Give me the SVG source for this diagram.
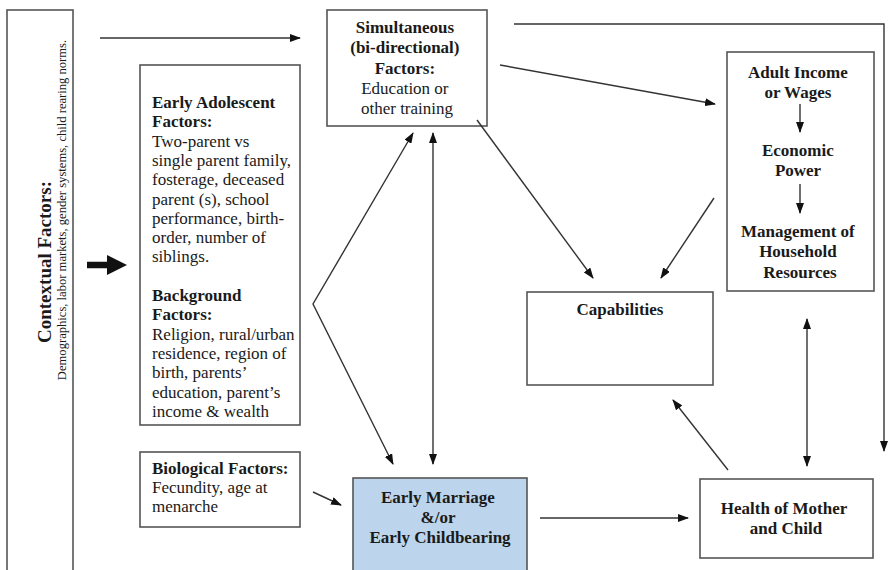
<svg xmlns="http://www.w3.org/2000/svg" width="889" height="570" viewBox="0 0 889 570">
  <defs>
    <style>
      .box { fill: #ffffff; stroke: #555555; stroke-width: 1.6; }
      .blue { fill: #bdd5ec; stroke: #555555; stroke-width: 1.6; }
      .t { font-family: "Liberation Serif", "Times New Roman", serif; font-size: 17px; fill: #1a1a1a; }
      .b { font-weight: bold; }
      .c { text-anchor: middle; }
      .ln { fill: none; stroke: #333333; stroke-width: 1.4; }
    </style>
    <marker id="head" markerUnits="userSpaceOnUse" markerWidth="11" markerHeight="8" refX="10" refY="4" orient="auto-start-reverse">
      <path d="M0,0 L11,4 L0,8 z" fill="#111111"/>
    </marker>
    <marker id="headBig" markerUnits="userSpaceOnUse" markerWidth="20" markerHeight="20" refX="1" refY="10" orient="auto">
      <path d="M0,0 L20,10 L0,20 z" fill="#111111"/>
    </marker>
  </defs>

  <!-- contextual factors column -->
  <g id="contextual">
    <rect class="box" x="7" y="10" width="66" height="580"/>
    <text class="t b c" style="font-size:19px" transform="translate(51,262) rotate(-90)">Contextual Factors:</text>
    <text class="t c" style="font-size:12.6px" transform="translate(66,210) rotate(-90)">Demographics, labor markets, gender systems, child rearing norms.</text>
  </g>

  <g id="early-adolescent">
    <rect class="box" x="140" y="65" width="160" height="360"/>
    <text class="t" x="152">
      <tspan class="b" x="152" y="108">Early Adolescent</tspan>
      <tspan class="b" x="152" y="127.3">Factors:</tspan>
      <tspan x="152" y="146.6">Two-parent vs</tspan>
      <tspan x="152" y="165.9">single parent family,</tspan>
      <tspan x="152" y="185.2">fosterage, deceased</tspan>
      <tspan x="152" y="204.5">parent (s), school</tspan>
      <tspan x="152" y="223.8">performance, birth-</tspan>
      <tspan x="152" y="243.1">order, number of</tspan>
      <tspan x="152" y="262.4">siblings.</tspan>
      <tspan class="b" x="152" y="301">Background</tspan>
      <tspan class="b" x="152" y="320.3">Factors:</tspan>
      <tspan x="152" y="339.6">Religion, rural/urban</tspan>
      <tspan x="152" y="358.9">residence, region of</tspan>
      <tspan x="152" y="378.2">birth, parents’</tspan>
      <tspan x="152" y="397.5">education, parent’s</tspan>
      <tspan x="152" y="416.8">income &amp; wealth</tspan>
    </text>
  </g>

  <g id="biological">
    <rect class="box" x="140" y="452" width="160" height="75"/>
    <text class="t">
      <tspan class="b" x="152" y="474">Biological Factors:</tspan>
      <tspan x="152" y="493">Fecundity, age at</tspan>
      <tspan x="152" y="512">menarche</tspan>
    </text>
  </g>

  <g id="simultaneous">
    <rect class="box" x="327" y="10" width="160" height="116"/>
    <text class="t c">
      <tspan class="b" x="407" y="33">Simultaneous</tspan>
      <tspan class="b" x="407" y="53">(bi-directional)</tspan>
      <tspan class="b" x="407" y="74">Factors:</tspan>
      <tspan x="407" y="94">Education or</tspan>
      <tspan x="407" y="114">other training</tspan>
    </text>
  </g>

  <g id="adult-income">
    <rect class="box" x="727" y="52" width="147" height="239"/>
    <text class="t b c">
      <tspan x="800" y="78">Adult Income</tspan>
      <tspan x="800" y="98">or Wages</tspan>
      <tspan x="800" y="156">Economic</tspan>
      <tspan x="800" y="176">Power</tspan>
      <tspan x="800" y="237">Management of</tspan>
      <tspan x="800" y="257">Household</tspan>
      <tspan x="800" y="278">Resources</tspan>
    </text>
    <line class="ln" x1="800" y1="104" x2="800" y2="132" marker-end="url(#head)"/>
    <line class="ln" x1="800" y1="184" x2="800" y2="213" marker-end="url(#head)"/>
  </g>

  <g id="capabilities">
    <rect class="box" x="527" y="292" width="186" height="93"/>
    <text class="t b c" x="620" y="315">Capabilities</text>
  </g>

  <g id="early-marriage">
    <rect class="blue" x="353" y="478" width="174" height="110"/>
    <text class="t b c">
      <tspan x="440" y="503">Early Marriage</tspan>
      <tspan x="440" y="523">&amp;/or</tspan>
      <tspan x="440" y="543">Early Childbearing</tspan>
    </text>
  </g>

  <g id="health">
    <rect class="box" x="700" y="479" width="173" height="79"/>
    <text class="t b c">
      <tspan x="786" y="514">Health of Mother</tspan>
      <tspan x="786" y="534">and Child</tspan>
    </text>
  </g>

  <!-- connectors -->
  <g id="connectors">
    <line class="ln" x1="100" y1="38" x2="300" y2="38" marker-end="url(#head)"/>
    <line x1="87" y1="265" x2="108" y2="265" stroke="#111111" stroke-width="6.5" marker-end="url(#headBig)"/>
    <line class="ln" x1="500" y1="65" x2="715" y2="104" marker-end="url(#head)"/>
    <polyline class="ln" points="514,24 884,24 884,451" marker-end="url(#head)"/>
    <line class="ln" x1="477" y1="120" x2="593" y2="278" marker-end="url(#head)"/>
    <line class="ln" x1="714" y1="198" x2="661" y2="278" marker-end="url(#head)"/>
    <line class="ln" x1="433" y1="133" x2="433" y2="464" marker-start="url(#head)" marker-end="url(#head)"/>
    <polyline class="ln" points="413,133 313,304 393,464" marker-start="url(#head)" marker-end="url(#head)"/>
    <line class="ln" x1="313" y1="492" x2="341" y2="505" marker-end="url(#head)"/>
    <line class="ln" x1="540" y1="518" x2="688" y2="518" marker-end="url(#head)"/>
    <line class="ln" x1="728" y1="470" x2="673" y2="400" marker-end="url(#head)"/>
    <line class="ln" x1="807" y1="319" x2="807" y2="466" marker-start="url(#head)" marker-end="url(#head)"/>
  </g>
</svg>
